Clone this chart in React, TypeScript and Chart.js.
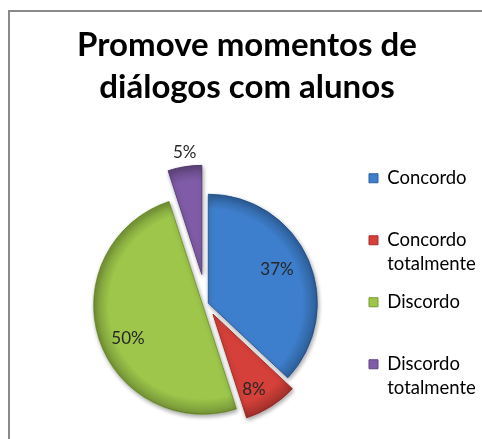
import React, { useEffect, useRef } from 'react';
import { Chart, registerables } from 'chart.js';

Chart.register(...registerables);

// ---- data ----
const titleLines = ['Promove momentos de', 'diálogos com alunos'];
const categories = ['Concordo', 'Concordo totalmente', 'Discordo', 'Discordo totalmente'];
const percentValues = [37, 8, 50, 5];

// ---- styles ----
const sliceColors = ['#3E7FCD', '#D6403A', '#9DC64A', '#805CA8'];
const rimColors = ['#2B5E9E', '#A52E2A', '#779A33', '#5E4280'];
const explodePx = [2, 12, 4, 30];
const labelRadius = [0.7, 0.79, 0.75, 1.13];
const labelAngleShiftDeg = [-2.5, 4, -6, 1];

const LEGEND_FONT = { family: 'Lato', size: 18.5, lineHeight: 24 / 18.5 };
const LEGEND_PAD = 14;
const BOX = 9;

export default function App() {
  const ref = useRef<HTMLCanvasElement>(null);

  useEffect(() => {
    const canvas = ref.current;
    if (!canvas) return;

    const m = document.createElement('canvas').getContext('2d')!;
    m.font = `${LEGEND_FONT.size}px ${LEGEND_FONT.family}`;
    let textW = 0;
    categories.forEach((c) => c.split(' ').forEach((p) => { textW = Math.max(textW, m.measureText(p).width); }));
    const itemW = BOX + LEGEND_FONT.size / 2 + textW;
    const boxX = 369;
    const padR = 472 - boxX - itemW;
    const padL = 12 + padR;
    const spacer = 58 - padL;

    const explodePlugin = {
      id: 'explodeAndLabels',
      afterDatasetUpdate(chart: any, args: any) {
        args.meta.data.forEach((el: any, i: number) => {
          const mid = (el.startAngle + el.endAngle) / 2;
          const s = explodePx[i] || 0;
          el.x += Math.cos(mid) * s;
          el.y += Math.sin(mid) * s;
        });
      },
      beforeDatasetsDraw(chart: any) {
        const ctx = chart.ctx;
        ctx.save();
        ctx.shadowColor = 'rgba(0,0,0,0.35)';
        ctx.shadowBlur = 4;
        ctx.shadowOffsetX = 1;
        ctx.shadowOffsetY = 2;
      },
      afterDatasetsDraw(chart: any) {
        const ctx = chart.ctx;
        ctx.restore();
        const meta = chart.getDatasetMeta(0);
        const data = chart.data.datasets[0].data as number[];
        const total = data.reduce((a, b) => a + b, 0);
        meta.data.forEach((el: any) => {
          const { x, y, startAngle, endAngle, outerRadius } = el;
          ctx.save();
          ctx.beginPath();
          ctx.moveTo(x, y);
          ctx.arc(x, y, outerRadius, startAngle, endAngle);
          ctx.closePath();
          ctx.clip();
          const g = ctx.createRadialGradient(x, y, outerRadius * 0.86, x, y, outerRadius);
          g.addColorStop(0, 'rgba(0,0,0,0)');
          g.addColorStop(1, 'rgba(0,0,0,0.25)');
          ctx.fillStyle = g;
          ctx.fill();
          ctx.restore();
        });
        ctx.save();
        ctx.font = '17px Lato';
        ctx.fillStyle = '#262626';
        ctx.textAlign = 'center';
        ctx.textBaseline = 'middle';
        meta.data.forEach((el: any, i: number) => {
          const mid = (el.startAngle + el.endAngle) / 2 + (labelAngleShiftDeg[i] * Math.PI) / 180;
          const r = el.outerRadius * labelRadius[i];
          ctx.fillText(Math.round((data[i] / total) * 100) + '%', el.x + Math.cos(mid) * r, el.y + Math.sin(mid) * r);
        });
        ctx.restore();
      },
    };

    const chart = new Chart(canvas, {
      type: 'pie',
      data: {
        labels: categories,
        datasets: [
          {
            data: percentValues,
            backgroundColor: sliceColors,
            borderColor: rimColors,
            borderWidth: 1,
            hoverOffset: 0,
          },
        ],
      },
      options: {
        responsive: false,
        devicePixelRatio: 1,
        animation: false,
        events: [],
        radius: 109,
        layout: { padding: { left: padL, right: padR, top: 0, bottom: 22 } },
        plugins: {
          tooltip: { enabled: false },
          title: {
            display: true,
            text: titleLines,
            color: '#000',
            font: { family: 'Lato', size: 33, weight: 'bold', lineHeight: 42 / 33 },
            padding: { top: 24, bottom: 83 },
            fullSize: true,
          },
          subtitle: {
            display: true,
            position: 'left',
            text: '',
            font: { size: 10, lineHeight: 1 },
            padding: { top: Math.max(spacer - 10, 0), bottom: 0 },
          },
          legend: {
            position: 'right',
            align: 'end',
            fullSize: true,
            maxWidth: 400,
            labels: {
              boxWidth: BOX,
              boxHeight: BOX,
              padding: LEGEND_PAD,
              color: '#262626',
              font: LEGEND_FONT,
              generateLabels: () =>
                categories.map((c, i) => {
                  const parts = c.split(' ');
                  while (parts.length < 2) parts.push('');
                  return {
                    text: parts as any,
                    fillStyle: sliceColors[i],
                    strokeStyle: rimColors[i],
                    lineWidth: 1,
                    hidden: false,
                    index: i,
                  };
                }),
            },
          },
        },
      } as any,
      plugins: [explodePlugin],
    });

    return () => chart.destroy();
  }, []);

  return (
    <div style={{ position: 'fixed', left: 0, top: 0, width: 482, height: 439, overflow: 'hidden', background: '#fff' }}>
      <div
        style={{
          position: 'absolute',
          left: 8,
          top: 10,
          width: 600,
          height: 600,
          border: '2px solid #8a8a8a',
        }}
      />
      <canvas ref={ref} width={482} height={439} style={{ position: 'absolute', left: 0, top: 0, width: 482, height: 439 }} />
    </div>
  );
}
